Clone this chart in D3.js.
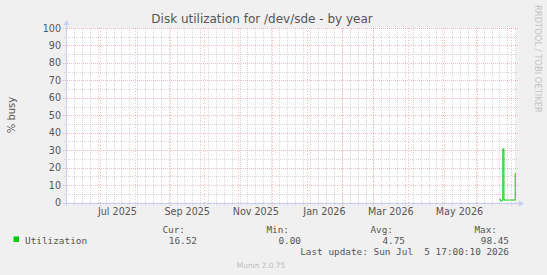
<!DOCTYPE html>
<html><head><meta charset="utf-8">
<script src="https://cdn.jsdelivr.net/npm/d3@7/dist/d3.min.js"></script>
<style>
html,body{margin:0;padding:0;background:#f0f0f0;}
svg{display:block;}
text{font-family:"DejaVu Sans",sans-serif;}
.mono{font-family:"DejaVu Sans Mono",monospace;}
</style></head>
<body>
<svg id="c" width="547" height="275"></svg>
<script>
// ---- data ----
const title = "Disk utilization for /dev/sde - by year";
const yLabel = "% busy";
const rangeStart = "2025-05-31T17:00:10Z";
const rangeEnd = "2026-07-05T17:00:10Z";
const yTicks = [0,10,20,30,40,50,60,70,80,90,100];
const yMinorTicks = [5,15,25,35,45,55,65,75,85,95];
const xLabelMonths = ["2025-07-01","2025-09-01","2025-11-01","2026-01-01","2026-03-01","2026-05-01"];
const xLabels = ["Jul 2025","Sep 2025","Nov 2025","Jan 2026","Mar 2026","May 2026"];
const dataDates = ["2026-06-21","2026-06-22","2026-06-23","2026-06-24","2026-06-25","2026-06-26","2026-06-27","2026-06-28","2026-06-29","2026-06-30","2026-07-01","2026-07-02","2026-07-03","2026-07-04","2026-07-05"];
const utilization = [1.8,0.9,0.9,30.7,1.4,1.4,1.4,1.4,1.4,1.4,1.4,1.4,1.4,1.4,16.52];
const legendNames = ["Utilization"];
const statHeaders = ["Cur:","Min:","Avg:","Max:"];
const statValues = ["16.52","0.00","4.75","98.45"];
const lastUpdate = "Last update: Sun Jul  5 17:00:10 2026";
const footer = "Munin 2.0.75";
const watermark = "RRDTOOL / TOBI OETIKER";

// ---- layout ----
const L = 66, R = 516, T = 28, B = 202.5;
const svg = d3.select("#c");
const t0 = new Date(rangeStart), t1 = new Date(rangeEnd);
const x = d3.scaleUtc().domain([t0, t1]).range([L, R]);
const y = d3.scaleLinear().domain([0, 100]).range([B, T]);
const green = "#00cc00";
const minorC = "rgba(140,140,140,0.35)";
const majorC = "rgba(230,90,90,0.4)";
const axisC = "#c8cdf6";

svg.append("rect").attr("x", L).attr("y", T).attr("width", R - L).attr("height", B - T).attr("fill", "#fff");

// minor vertical grid (weekly)
const weeks = d3.utcSunday.range(t0, t1);
svg.append("g").selectAll("line").data(weeks).join("line")
  .attr("x1", d => Math.round(x(d)) + 0.5).attr("x2", d => Math.round(x(d)) + 0.5)
  .attr("y1", T).attr("y2", B + 2)
  .attr("stroke", minorC).attr("stroke-dasharray", "1,1");
// minor horizontal grid
svg.append("g").selectAll("line").data(yMinorTicks).join("line")
  .attr("x1", L - 2).attr("x2", R + 2)
  .attr("y1", d => Math.round(y(d)) + 0.5).attr("y2", d => Math.round(y(d)) + 0.5)
  .attr("stroke", minorC).attr("stroke-dasharray", "1,1");
// major vertical grid (monthly)
const months = d3.utcMonth.range(d3.utcMonth.ceil(t0), t1);
svg.append("g").selectAll("line").data(months).join("line")
  .attr("x1", d => Math.round(x(d)) + 0.5).attr("x2", d => Math.round(x(d)) + 0.5)
  .attr("y1", T).attr("y2", B + 3.5)
  .attr("stroke", majorC).attr("stroke-dasharray", "1,2");
// major horizontal grid
svg.append("g").selectAll("line").data(yTicks.filter(v => v > 0)).join("line")
  .attr("x1", L - 3).attr("x2", R + 2)
  .attr("y1", d => Math.round(y(d)) + 0.5).attr("y2", d => Math.round(y(d)) + 0.5)
  .attr("stroke", majorC).attr("stroke-dasharray", "1,1");

// y axis labels via d3 axis
const yAxis = svg.append("g").attr("transform", `translate(${L - 4},0)`)
  .call(d3.axisLeft(y).tickValues(yTicks).tickSize(0).tickPadding(1).tickFormat(d3.format("d")));
yAxis.select(".domain").remove();
yAxis.selectAll("text").attr("font-size", 9.6).attr("fill", "#555").attr("font-family", "DejaVu Sans");

// x axis labels (centered mid-month) via d3 axis
const labelDates = xLabelMonths.map(s => d3.utcDay.offset(new Date(s + "T00:00:00Z"), 15));
const xAxis = svg.append("g").attr("transform", `translate(0,${B + 3})`)
  .call(d3.axisBottom(x).tickValues(labelDates).tickSize(0).tickPadding(3)
    .tickFormat((d, i) => xLabels[i]));
xAxis.select(".domain").remove();
xAxis.selectAll("text").attr("font-size", 9.6).attr("fill", "#555").attr("font-family", "DejaVu Sans");

// axes lines + arrows
svg.append("line").attr("x1", L - 3).attr("x2", R + 4).attr("y1", Math.round(B) + 0.5).attr("y2", Math.round(B) + 0.5).attr("stroke", axisC);
svg.append("line").attr("x1", L + 0.5).attr("x2", L + 0.5).attr("y1", B + 3).attr("y2", T - 4).attr("stroke", axisC);
svg.append("path").attr("d", `M${R + 3},${Math.round(B) - 2.5}L${R + 8},${Math.round(B) + 0.5}L${R + 3},${Math.round(B) + 3.5}Z`).attr("fill", axisC);
svg.append("path").attr("d", `M${L - 2.5},${T - 3}L${L + 0.5},${T - 8}L${L + 3.5},${T - 3}Z`).attr("fill", axisC);

// data line
const pts = dataDates.map((d, i) => ({t: new Date(d + "T00:00:00Z"), v: utilization[i]}));
pts.push({t: t1, v: utilization[utilization.length - 1]});
svg.append("path").datum(pts)
  .attr("d", d3.line().x(d => x(d.t)).y(d => y(d.v)).curve(d3.curveStepAfter))
  .attr("fill", "none").attr("stroke", green).attr("stroke-width", 1);

// title
svg.append("text").attr("x", 262).attr("y", 23).attr("text-anchor", "middle")
  .attr("font-size", 12).attr("fill", "#555").text(title);
// y label
svg.append("text").attr("transform", `translate(15,115) rotate(-90)`).attr("text-anchor", "middle")
  .attr("font-size", 10).attr("fill", "#555").text(yLabel);
// watermark
svg.append("text").attr("transform", `translate(534.5,5) rotate(90)`).attr("text-anchor", "start")
  .attr("font-size", 8.4).attr("fill", "#c4c4c4").text(watermark);

// legend
svg.append("rect").attr("x", 13.5).attr("y", 236.5).attr("width", 5.5).attr("height", 5.5).attr("fill", green);
svg.append("text").attr("class", "mono").attr("x", 25).attr("y", 243.5)
  .attr("font-size", 9.4).attr("fill", "#555").text(legendNames[0]);
const headRight = [185, 289, 393, 497];
const valRight = [197, 301, 405, 509];
svg.append("g").selectAll("text").data(statHeaders).join("text").attr("class", "mono")
  .attr("x", (d, i) => headRight[i]).attr("y", 232.5).attr("text-anchor", "end")
  .attr("font-size", 9.4).attr("fill", "#555").text(d => d);
svg.append("g").selectAll("text").data(statValues).join("text").attr("class", "mono")
  .attr("x", (d, i) => valRight[i]).attr("y", 243.5).attr("text-anchor", "end")
  .attr("font-size", 9.4).attr("fill", "#555").text(d => d);
svg.append("text").attr("class", "mono").attr("x", 509).attr("y", 255).attr("text-anchor", "end")
  .attr("font-size", 9.4).attr("fill", "#555").attr("xml:space", "preserve").style("white-space", "pre").text(lastUpdate);
svg.append("text").attr("x", 261).attr("y", 267.5).attr("text-anchor", "middle")
  .attr("font-size", 7.4).attr("fill", "#bbb").text(footer);
</script>
</body></html>
